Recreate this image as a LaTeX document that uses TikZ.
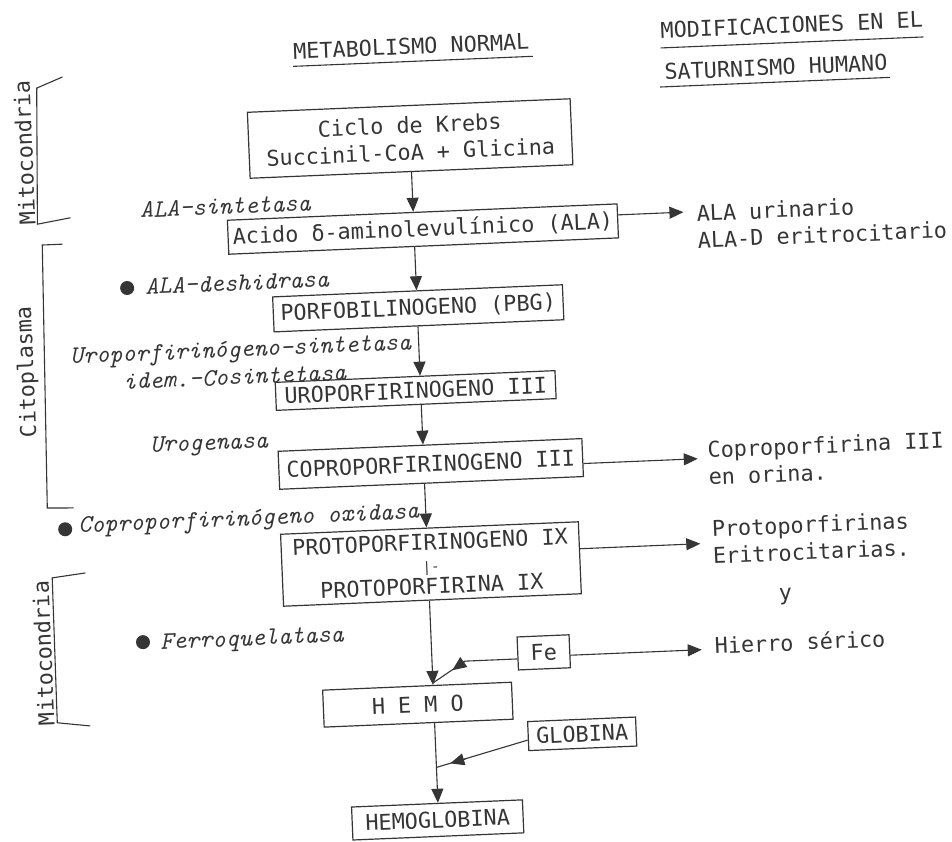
\documentclass[tikz,border=0pt]{standalone}
\usepackage{fontspec}
\usetikzlibrary{arrows.meta,calc}
\newfontfamily\typw{DejaVu Sans Mono}
\newcommand{\twf}{\typw\fontsize{21.8pt}{27pt}\selectfont}
\newcommand{\twp}{\typw\fontsize{21.8pt}{22pt}\selectfont}
\newcommand{\hwf}{\ttfamily\itshape\fontsize{25pt}{30pt}\selectfont}
\definecolor{ink}{HTML}{353535}
\begin{document}
\begin{tikzpicture}[x=1pt, y=-1pt, color=ink]
\tikzset{
  box/.style={draw, line width=1.2pt, inner sep=0pt, font=\twf, align=center},
  lbl/.style={inner sep=0pt, font=\twf},
  hw/.style={inner sep=0pt, font=\hwf, anchor=west},
  conn/.style={line width=1.1pt},
  arr/.style={line width=1.1pt, -{Triangle[length=14pt,width=12pt]}},
  dotm/.style={circle, fill, inner sep=0pt, minimum size=14pt},
  brk/.style={line width=1.1pt, line cap=round}
}
\fill[white] (0,0) rectangle (952,842);
\useasboundingbox (0,0) rectangle (952,842);
\begin{scope}[rotate around={2.4:(476,421)}, transform shape]
% titles
\node[lbl] (t1) at (427,44) {METABOLISMO NORMAL};
\node[lbl] (t2) at (808,38.5) {MODIFICACIONES EN EL};
\node[lbl] (t3) at (790.5,80) {SATURNISMO HUMANO};
\draw[conn] (308,59) -- (548,59);
\draw[conn] (676,56) -- (939,56);
\draw[conn] (674,95) -- (904,95);
% compartments
\node[lbl, rotate=90] (m1) at (36,134) {Mitocondria};
\node[lbl, rotate=90] (cy) at (30,353) {Citoplasma};
\node[lbl, rotate=90] (m2) at (34,635) {Mitocondria};
\draw[brk] (77,60) -- (51,70) -- (46,206) -- (79,201);
\draw[brk] (70,227) -- (50,227) -- (44,490) -- (70,491);
\draw[brk] (79,556.5) -- (46,560) -- (45,705) -- (77.5,709.5);
% main chain boxes
\node[box, minimum width=323pt, minimum height=66pt] (krebs) at (422,136) {Ciclo de Krebs\\Succinil-CoA + Glicina};
\node[box, minimum width=390pt, minimum height=34pt] (acido) at (431,227) {Acido δ-aminolevulínico (ALA)};
\node[box, minimum width=290pt, minimum height=35pt] (pbg) at (423,306) {PORFOBILINOGENO (PBG)};
\node[box, minimum width=280pt, minimum height=28pt] (uro) at (417,388) {UROPORFIRINOGENO III};
\node[box, minimum width=304pt, minimum height=38pt] (copro) at (429,462) {COPROPORFIRINOGENO III};
\node[box, font=\twp, minimum width=298pt, minimum height=72pt] (proto) at (425,562) {PROTOPORFIRINOGENO IX\\{\fontsize{14pt}{14pt}\selectfont |-}\\PROTOPORFIRINA IX};
\node[box, minimum width=52pt, minimum height=33pt] (fe) at (534,655) {Fe};
\node[box, minimum width=189pt, minimum height=37pt] (hemo) at (406,702) {H E M O};
\node[box, minimum width=108pt, minimum height=29pt] (glob) at (569,738) {GLOBINA};
\node[box, minimum width=171pt, minimum height=33pt] (hgb) at (421,818) {HEMOGLOBINA};
% enzymes
\node[hw] (e1) at (149,196) {ALA-sintetasa};
\node[dotm] (d1) at (133,273.5) {};
\node[hw] (e2) at (151,273) {ALA-deshidrasa};
\node[hw] (e3) at (73,342) {Uroporfirinógeno-sintetasa};
\node[hw] (e4) at (125,367) {idem.-Cosintetasa};
\node[hw] (e5) at (149,434) {Urogenasa};
\node[dotm] (d2) at (61,512) {};
\node[hw] (e6) at (74,511) {Coproporfirinógeno oxidasa};
\node[dotm] (d3) at (134,628) {};
\node[hw] (e7) at (151,631) {Ferroquelatasa};
% chain arrows
\coordinate (ch) at (422,0);
\draw[arr] (krebs.south -| ch) -- (acido.north -| ch);
\draw[arr] (acido.south -| ch) -- (pbg.north -| ch);
\draw[arr] (pbg.south -| ch) -- (uro.north -| ch);
\draw[arr] (uro.south -| ch) -- (copro.north -| ch);
\draw[arr] (copro.south -| ch) -- (proto.north -| ch);
\draw[arr] (proto.south -| ch) -- (hemo.north -| ch);
\draw[arr] (hemo.south -| ch) -- (hgb.north -| ch);
% Fe and globin inputs
\coordinate (f1) at (455,660.5);
\coordinate (f2) at (442,669);
\coordinate (fj) at (422,681);
\draw[conn] (fe.west |- f1) -- (f1) -- (fj);
\draw[arr] (f1) -- (f2);
\coordinate (g0) at (515,742);
\coordinate (gb) at (451.5,758.1);
\coordinate (g1) at (436,762);
\coordinate (gj) at (422,765.5);
\draw[conn] (glob.west |- g0) -- (gj);
\draw[arr] (gb) -- (g1);
% right side: changes in lead poisoning
\node[lbl, anchor=west, align=left] (r1) at (705,236) {ALA urinario\\ALA-D eritrocitario};
\node[lbl, anchor=west, align=left] (r2) at (706,473) {Coproporfirina III\\en orina.};
\node[lbl, anchor=west, align=left] (r3) at (707,552) {Protoporfirinas\\Eritrocitarias.};
\node[lbl] (ry) at (778,609) {y};
\node[lbl, anchor=west] (r4) at (705,655) {Hierro sérico};
\coordinate (a1) at (692,221);
\coordinate (c1) at (696,468);
\coordinate (p1) at (695,553);
\coordinate (h1) at (692,659);
\draw[arr] (acido.east |- a1) -- (a1);
\draw[arr] (copro.east |- c1) -- (c1);
\draw[arr] (proto.east |- p1) -- (p1);
\draw[arr] (fe.east |- h1) -- (h1);
\end{scope}
\end{tikzpicture}
\end{document}
